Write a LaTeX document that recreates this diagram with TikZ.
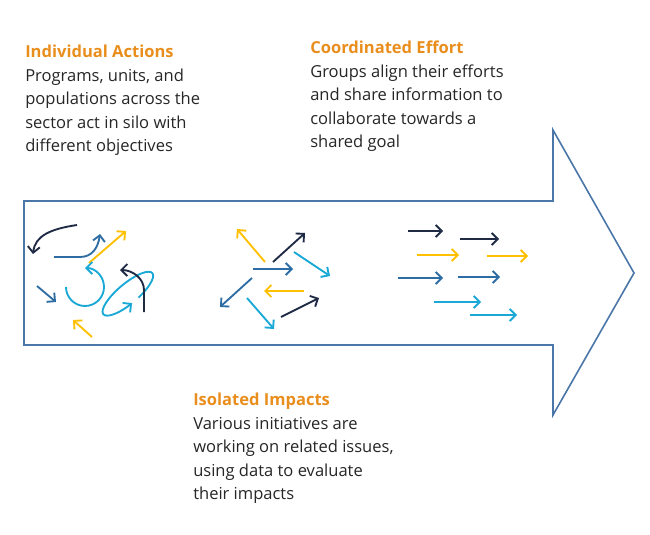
\documentclass[tikz,border=0pt]{standalone}
\usepackage{fontspec}
\setmainfont{Open Sans}
\usetikzlibrary{arrows.meta}
\definecolor{navy}{HTML}{1F2A44}
\definecolor{steel}{HTML}{2E6DA4}
\definecolor{sky}{HTML}{1AA9D6}
\definecolor{gold}{HTML}{FFC000}
\definecolor{title}{HTML}{E98E1D}
\definecolor{frame}{HTML}{4A76A8}
\tikzset{
  stage/.style={anchor=north west,inner sep=0pt,align=left,
    font=\fontsize{12.4}{17.6}\selectfont,text=black!85},
  mv/.style={line width=1.4pt,-{Straight Barb[length=4.5pt,width=9pt]}},
}
\newcommand{\hd}[1]{{\bfseries\color{title}#1}}
\begin{document}
\begin{tikzpicture}[x=0.75pt,y=-0.75pt]
        \useasboundingbox (0,0) rectangle (650,535);
        % big arrow
        \draw[frame,line width=1.2pt] (24,201) -- (553,201) -- (553,130) -- (634,273)
              -- (553,415) -- (553,345) -- (24,345) -- cycle;
        % texts
        \node[stage] (indiv) at (25,45) {\hd{Individual Actions}\\Programs, units, and\\populations across the\\sector act in silo with\\different objectives};
        \node[stage] (coord) at (310,41) {\hd{Coordinated Effort}\\Groups align their efforts\\and share information to\\collaborate towards a\\shared goal};
        \node[stage] (isol) at (193,393) {\hd{Isolated Impacts}\\Various initiatives are\\working on related issues,\\using data to evaluate\\their impacts};
        % individual actions cluster
        \draw[mv,navy] (77,225) .. controls (50,229) and (35,236) .. (33,254);
        \draw[mv,steel] (54,257) -- (80,257) .. controls (92,257) and (98,248) .. (100,234);
        \draw[mv,gold] (89,263) -- (126,231);
        \draw[mv,steel] (37,286) -- (56,302);
        \draw[mv,sky] (66,287) arc[start angle=180,end angle=-90,radius=19];
        \draw[mv,sky,rotate around={40:(132,290)}] (132,300) arc[start angle=80,end angle=-265,x radius=32,y radius=10];
        \draw[mv,navy] (144,312) -- (144,290) .. controls (144,278) and (132,270) .. (120,270);
        \draw[mv,gold] (92,337) -- (73,320);
        % coordinated cluster
        \draw[mv,gold] (265,262) -- (237,229);
        \draw[mv,navy] (273,262) -- (305,233);
        \draw[mv,steel] (253,269) -- (293,269);
        \draw[mv,sky] (294,252) -- (330,276);
        \draw[mv,steel] (252,278) -- (220,307);
        \draw[mv,gold] (304,291) -- (264,291);
        \draw[mv,sky] (247,298) -- (274,329);
        \draw[mv,navy] (281,317) -- (319,298);
        % aligned arrows
        \foreach \c/\a/\b/\y in {navy/408/443/231, navy/460/499/239,
            gold/417/459/255, gold/487/528/256, steel/398/443/278,
            steel/458/500/277, sky/434/481/302, sky/470/517/315}
          \draw[mv,\c] (\a,\y) -- (\b,\y);
\end{tikzpicture}
\end{document}
